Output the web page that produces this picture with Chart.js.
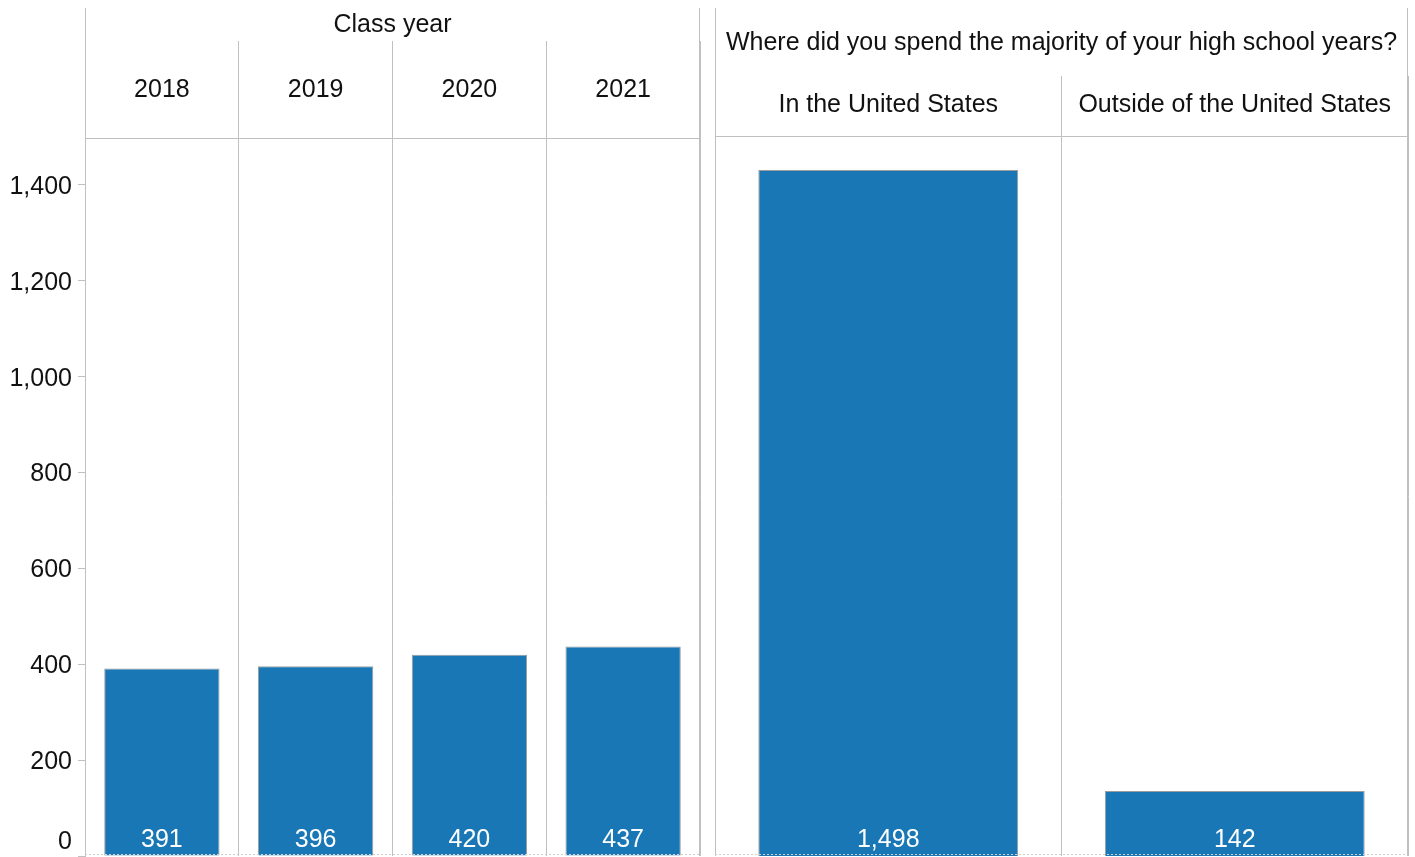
<!DOCTYPE html>
<html>
<head>
<meta charset="utf-8">
<script src="https://cdn.jsdelivr.net/npm/chart.js@4.4.1/dist/chart.umd.min.js"></script>
<style>
  html, body { margin: 0; padding: 0; background: #fff; overflow: hidden; }
  #left-chart { position: absolute; left: 0; top: 0; }
  #right-chart { position: absolute; left: 701px; top: 0; }
</style>
</head>
<body>
<canvas id="left-chart" width="701" height="857"></canvas>
<canvas id="right-chart" width="714" height="857"></canvas>
<script>
// Data
const classYears = ['2018', '2019', '2020', '2021'];
const classCounts = [391, 396, 420, 437];
const locationLabels = ['In the United States', 'Outside of the United States'];
const locationCounts = [1498, 142];
const yTickStep = 200;
const leftAxisMax = 1498;
const rightAxisMax = 1572;

const BAR_BLUE = '#1a77b5';
const LINE_GREY = '#c0c0c0';
const TEXT = '#111111';
const FONT_FAMILY = '"Liberation Sans", Arial, sans-serif';

Chart.defaults.font.family = FONT_FAMILY;
Chart.defaults.font.size = 25;
Chart.defaults.color = TEXT;

const fmt = (v) => Number(v).toLocaleString('en-US');

// Panel frame, baseline and in-bar value labels
const panelPlugin = {
  id: 'panelFrame',
  afterDraw(chart, args, opts) {
    const { ctx, chartArea } = chart;
    const { left, right, bottom } = chartArea;
    ctx.save();

    // outer panel borders reach up to the header
    ctx.strokeStyle = LINE_GREY;
    ctx.lineWidth = 1;
    ctx.beginPath();
    ctx.moveTo(left + 0.5, 8);
    ctx.lineTo(left + 0.5, bottom);
    ctx.moveTo(right - 0.5, 8);
    ctx.lineTo(right - 0.5, bottom);
    ctx.stroke();

    // dashed baseline
    ctx.strokeStyle = '#cfcfcf';
    ctx.setLineDash([2, 2]);
    ctx.beginPath();
    ctx.moveTo(left, bottom - 1.5);
    ctx.lineTo(right, bottom - 1.5);
    ctx.stroke();
    ctx.setLineDash([]);

    // value labels at the bottom of each bar
    const meta = chart.getDatasetMeta(0);
    const values = chart.data.datasets[0].data;
    ctx.fillStyle = '#ffffff';
    ctx.font = '25px ' + FONT_FAMILY;
    ctx.textAlign = 'center';
    ctx.textBaseline = 'middle';
    meta.data.forEach((bar, i) => {
      ctx.fillText(fmt(values[i]), bar.x, bottom - 16);
    });

    // the zero tick label sits above the clipped bottom edge
    if (opts.zeroLabel) {
      const y = chart.scales.y.getPixelForValue(0);
      ctx.fillStyle = TEXT;
      ctx.textAlign = 'right';
      ctx.fillText('0', 72, y - 14);
    }
    ctx.restore();
  }
};

// Left panel: class year
new Chart(document.getElementById('left-chart'), {
  type: 'bar',
  data: {
    labels: classYears,
    datasets: [{
      data: classCounts,
      backgroundColor: BAR_BLUE,
      borderColor: '#9c9c9c',
      borderWidth: 1,
      barPercentage: 0.75,
      categoryPercentage: 1
    }]
  },
  options: {
    responsive: false,
    animation: false,
    layout: { padding: { top: 0, bottom: 1, left: 0, right: 1 } },
    plugins: {
      legend: { display: false },
      tooltip: { enabled: false },
      panelFrame: { zeroLabel: true }
    },
    scales: {
      x: {
        position: 'top',
        afterFit: (scale) => { scale.height = 138; },
        grid: { offset: true, color: LINE_GREY, tickLength: 97 },
        border: { color: LINE_GREY },
        ticks: { padding: -64, color: TEXT },
        title: { display: true, text: 'Class year', color: TEXT, padding: { top: 10, bottom: 0 } }
      },
      y: {
        min: 0,
        max: leftAxisMax,
        afterFit: (scale) => {
          scale.width = 85;
          scale.paddingTop = 0;
          scale.paddingBottom = 0;
        },
        grid: { drawOnChartArea: false, color: LINE_GREY, tickLength: 7 },
        border: { color: LINE_GREY },
        ticks: {
          stepSize: yTickStep,
          includeBounds: false,
          padding: 6,
          labelOffset: 2,
          color: TEXT,
          callback: (v) => (v === 0 ? '' : fmt(v))
        }
      }
    }
  },
  plugins: [panelPlugin]
});

// Right panel: where high school years were spent
new Chart(document.getElementById('right-chart'), {
  type: 'bar',
  data: {
    labels: locationLabels,
    datasets: [{
      data: locationCounts,
      backgroundColor: BAR_BLUE,
      borderColor: '#9c9c9c',
      borderWidth: 1,
      barPercentage: 0.75,
      categoryPercentage: 1
    }]
  },
  options: {
    responsive: false,
    animation: false,
    layout: { padding: { top: 0, bottom: 1, left: 14, right: 7 } },
    plugins: {
      legend: { display: false },
      tooltip: { enabled: false },
      panelFrame: { zeroLabel: false }
    },
    scales: {
      x: {
        position: 'top',
        afterFit: (scale) => { scale.height = 136; },
        grid: { offset: true, color: LINE_GREY, tickLength: 60 },
        border: { color: LINE_GREY },
        ticks: { padding: -44, color: TEXT },
        title: {
          display: true,
          text: 'Where did you spend the majority of your high school years?',
          color: TEXT,
          padding: { top: 28, bottom: 0 }
        }
      },
      y: {
        display: false,
        min: 0,
        max: rightAxisMax
      }
    }
  },
  plugins: [panelPlugin]
});
</script>
</body>
</html>
